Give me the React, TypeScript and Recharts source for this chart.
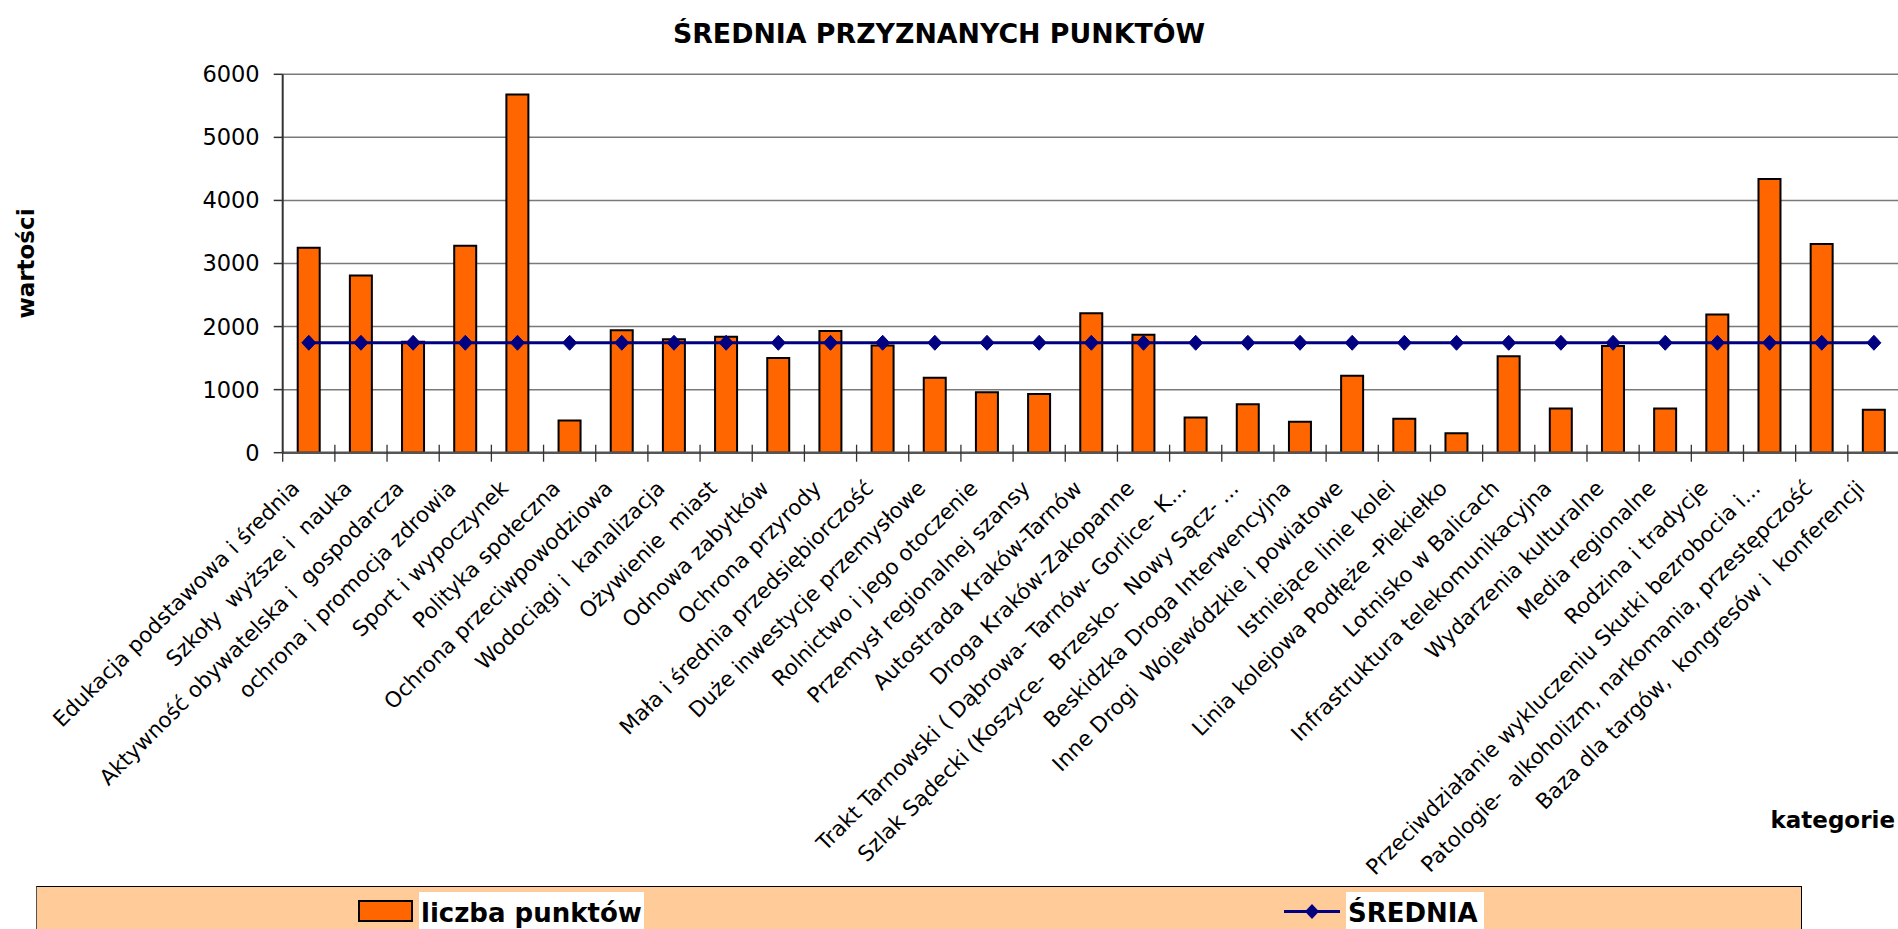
import React from 'react';
import { ComposedChart, Bar, Line, XAxis, YAxis, CartesianGrid, Legend } from 'recharts';

const categories: string[] = [
  'Edukacja podstawowa i średnia',
  'Szkoły  wyższe i  nauka',
  'Aktywność obywatelska i  gospodarcza',
  'ochrona i promocja zdrowia',
  'Sport i wypoczynek',
  'Polityka społeczna',
  'Ochrona przeciwpowodziowa',
  'Wodociągi i  kanalizacja',
  'Ożywienie  miast',
  'Odnowa zabytków',
  'Ochrona przyrody',
  'Mała i średnia przedsiębiorczość',
  'Duże inwestycje przemysłowe',
  'Rolnictwo i jego otoczenie',
  'Przemysł regionalnej szansy',
  'Autostrada Kraków-Tarnów',
  'Droga Kraków-Zakopanne',
  'Trakt Tarnowski ( Dąbrowa- Tarnów- Gorlice- K...',
  'Szlak Sądecki (Koszyce-  Brzesko-  Nowy Sącz- ...',
  'Beskidzka Droga Interwencyjna',
  'Inne Drogi  Wojewódzkie i powiatowe',
  'Istniejące linie kolei',
  'Linia kolejowa Podłęże -Piekiełko',
  'Lotnisko w Balicach',
  'Infrastruktura telekomunikacyjna',
  'Wydarzenia kulturalne',
  'Media regionalne',
  'Rodzina i tradycje',
  'Przeciwdziałanie wykluczeniu Skutki bezrobocia i...',
  'Patologie-  alkoholizm, narkomania, przestępczość',
  'Baza dla targów,  kongresów i  konferencji',
];

const liczbaPunktow: number[] = [
  3250, 2810, 1760, 3280, 5680, 510, 1940, 1800, 1840, 1500,
  1930, 1700, 1190, 960, 930, 2210, 1870, 560, 770, 490,
  1220, 540, 310, 1530, 700, 1690, 700, 2190, 4340, 3310, 680,
];

const srednia: number[] = [
  1743, 1743, 1743, 1743, 1743, 1743, 1743, 1743, 1743, 1743,
  1743, 1743, 1743, 1743, 1743, 1743, 1743, 1743, 1743, 1743,
  1743, 1743, 1743, 1743, 1743, 1743, 1743, 1743, 1743, 1743, 1743,
];

const yTicks: number[] = [0, 1000, 2000, 3000, 4000, 5000, 6000];

const seriesNames = { bars: 'liczba punktów', line: 'ŚREDNIA' };
const titleText = 'ŚREDNIA PRZYZNANYCH PUNKTÓW';
const yTitle = 'wartości';
const xTitle = 'kategorie';

const data = categories.map((name, i) => ({
  name,
  punkty: liczbaPunktow[i],
  srednia: srednia[i],
}));

const FONT = "'DejaVu Sans', Verdana, sans-serif";

const CategoryTick = (props: any) => {
  const { x, y, payload, index } = props;
  const half = typeof payload?.offset === 'number' && payload.offset > 0 ? payload.offset : 26.08;
  const tx = x - 8;
  const ty = y + 37;
  return (
    <g>
      <line
        x1={x - half}
        x2={x - half}
        y1={index === 0 ? y : y - 8}
        y2={y + 9}
        stroke="#333"
        strokeWidth={1.3}
      />
      <text
        x={tx}
        y={ty}
        transform={`rotate(-45, ${tx}, ${ty})`}
        textAnchor="end"
        fontFamily={FONT}
        fontSize={21.5}
        fill="#000"
        style={{ whiteSpace: 'pre' }}
      >
        {payload.value}
      </text>
    </g>
  );
};

const Diamond = (props: any) => {
  const { cx, cy } = props;
  if (cx == null || cy == null) return null;
  return (
    <path
      d={`M${cx},${cy - 7.5} L${cx + 7},${cy} L${cx},${cy + 7.5} L${cx - 7},${cy} Z`}
      fill="#000080"
      stroke="#000080"
      strokeWidth={1}
    />
  );
};

const YTitle = (props: any) => {
  const vb = props.viewBox || { x: 0, y: 74, width: 283, height: 379 };
  const cx = vb.x + 26;
  const cy = vb.y + vb.height / 2;
  return (
    <text
      x={cx}
      y={cy}
      transform={`rotate(-90, ${cx}, ${cy})`}
      textAnchor="middle"
      dominantBaseline="central"
      fontFamily={FONT}
      fontWeight="bold"
      fontSize={23}
      fill="#000"
    >
      {yTitle}
    </text>
  );
};

const XTitle = (props: any) => {
  const vb = props.viewBox || { x: 283, y: 453, width: 1617, height: 400 };
  return (
    <text
      x={vb.x + vb.width - 5}
      y={vb.y + 375.5}
      textAnchor="end"
      fontFamily={FONT}
      fontWeight="bold"
      fontSize={23}
      fill="#000"
    >
      {xTitle}
    </text>
  );
};

const LegendContent = () => {
  const textStyle: React.CSSProperties = {
    fontFamily: FONT,
    fontWeight: 'bold',
    fontSize: 26,
    lineHeight: '26px',
    color: '#000',
    whiteSpace: 'nowrap',
  };
  return (
    <div
      style={{
        position: 'relative',
        width: 1766,
        height: 43,
        boxSizing: 'border-box',
        background: '#FFCC99',
        borderTop: '1.5px solid #000',
        borderLeft: '1px solid #555',
        borderRight: '1px solid #000',
      }}
    >
      <div
        style={{
          position: 'absolute',
          left: 321,
          top: 13,
          width: 55,
          height: 22,
          boxSizing: 'border-box',
          background: '#FF6600',
          border: '2.5px solid #000',
        }}
      />
      <div
        style={{
          position: 'absolute',
          left: 382,
          top: 5,
          width: 225,
          height: 40,
          background: '#fff',
        }}
      >
        <div style={{ ...textStyle, paddingTop: 8, paddingLeft: 2 }}>{seriesNames.bars}</div>
      </div>
      <svg
        style={{ position: 'absolute', left: 1247, top: 14 }}
        width={56}
        height={22}
      >
        <line x1={0} x2={56} y1={10.5} y2={10.5} stroke="#000080" strokeWidth={3} />
        <path d="M28,3 L35,10.5 L28,18 L21,10.5 Z" fill="#000080" />
      </svg>
      <div
        style={{
          position: 'absolute',
          left: 1309,
          top: 5,
          width: 138,
          height: 40,
          background: '#fff',
        }}
      >
        <div style={{ ...textStyle, paddingTop: 8, paddingLeft: 2 }}>{seriesNames.line}</div>
      </div>
    </div>
  );
};

export default function App() {
  return (
    <div
      style={{
        position: 'absolute',
        left: 0,
        top: 0,
        width: 1898,
        height: 929,
        overflow: 'hidden',
        background: '#fff',
      }}
    >
      <div
        style={{
          position: 'absolute',
          left: 0,
          top: 20,
          width: 1878,
          textAlign: 'center',
          fontFamily: FONT,
          fontWeight: 'bold',
          fontSize: 26.8,
          lineHeight: '27px',
          color: '#000',
          zIndex: 2,
          whiteSpace: 'nowrap',
        }}
      >
        {titleText}
      </div>
      <ComposedChart
        width={1900}
        height={929}
        data={data}
        margin={{ top: 74.3, right: 0, bottom: 76.3, left: 0 }}
        barCategoryGap={0}
      >
        <CartesianGrid vertical={false} horizontal stroke="#7a7a7a" strokeWidth={1.5} />
        <XAxis
          dataKey="name"
          type="category"
          interval={0}
          height={400}
          tickSize={0}
          tickMargin={0}
          tickLine={false}
          axisLine={{ stroke: '#555', strokeWidth: 2.5 }}
          tick={<CategoryTick />}
          label={<XTitle />}
        />
        <YAxis
          type="number"
          domain={[0, 6000]}
          ticks={yTicks}
          width={282.7}
          tickSize={9}
          tickMargin={14}
          tickLine={{ stroke: '#333', strokeWidth: 1.5 }}
          axisLine={{ stroke: '#333', strokeWidth: 2 }}
          tick={{ fontFamily: FONT, fontSize: 22.5, fill: '#000' }}
          interval={0}
          label={<YTitle />}
        />
        <Bar
          dataKey="punkty"
          name={seriesNames.bars}
          fill="#FF6600"
          stroke="#000"
          strokeWidth={2}
          barSize={22}
          isAnimationActive={false}
        />
        <Line
          dataKey="srednia"
          name={seriesNames.line}
          type="linear"
          stroke="#000080"
          strokeWidth={3}
          dot={<Diamond />}
          activeDot={false}
          isAnimationActive={false}
        />
        <Legend
          layout="horizontal"
          verticalAlign="middle"
          align="center"
          wrapperStyle={{ position: 'absolute', left: 36, top: 886, width: 1766, height: 43 }}
          content={<LegendContent />}
        />
      </ComposedChart>
    </div>
  );
}
